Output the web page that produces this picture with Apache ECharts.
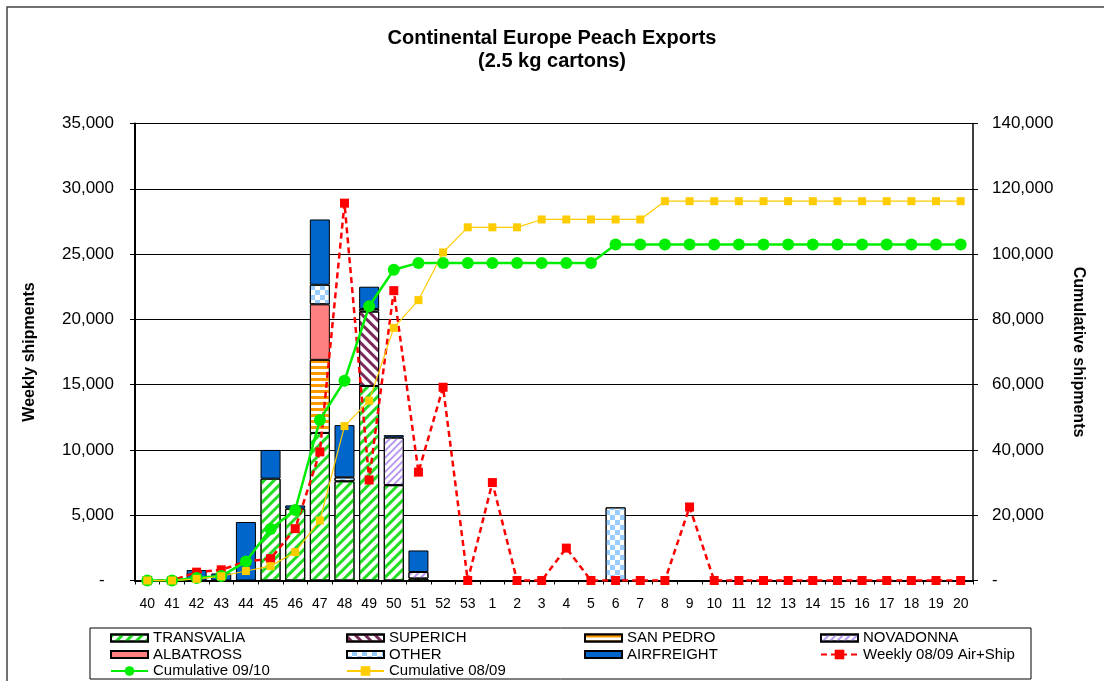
<!DOCTYPE html>
<html>
<head>
<meta charset="utf-8">
<title>Continental Europe Peach Exports</title>
<script src="https://cdn.jsdelivr.net/npm/echarts@6/dist/echarts.min.js"></script>
<style>
  html, body { margin: 0; padding: 0; background: #fff; }
  #chart { width: 1104px; height: 681px; }
</style>
</head>
<body>
<div id="chart"></div>
<script>
// weeks 40..53 then 1..20
const weeks = ['40', '41', '42', '43', '44', '45', '46', '47', '48', '49', '50', '51', '52', '53',
  '1', '2', '3', '4', '5', '6', '7', '8', '9', '10', '11', '12', '13', '14', '15', '16', '17', '18', '19', '20'];

const _ = null;
// weekly shipments per variety (cartons)
const transvalia = [_, _, _, _, _, 7800, 5500, 11300, 7600, 14900, 7300, 150, _, _, _, _, _, _, _, _, _, _, _, _, _, _, _, _, _, _, _, _, _, _];
const superich   = [_, _, _, _, _, _, _, _, _, 5700, _, _, _, _, _, _, _, _, _, _, _, _, _, _, _, _, _, _, _, _, _, _, _, _];
const sanPedro   = [_, _, _, _, _, _, _, 5600, _, _, _, _, _, _, _, _, _, _, _, _, _, _, _, _, _, _, _, _, _, _, _, _, _, _];
const novadonna  = [_, _, _, _, _, _, _, _, _, _, 3650, 500, _, _, _, _, _, _, _, _, _, _, _, _, _, _, _, _, _, _, _, _, _, _];
const albatross  = [_, _, _, _, _, _, _, 4250, _, _, _, _, _, _, _, _, _, _, _, _, _, _, _, _, _, _, _, _, _, _, _, _, _, _];
const other      = [_, _, _, _, _, _, _, 1500, 300, 200, _, _, _, _, _, _, _, _, _, 5600, _, _, _, _, _, _, _, _, _, _, _, _, _, _];
const airfreight = [_, _, 800, 540, 4480, 2200, 250, 5000, 4000, 1700, 180, 1650, _, _, _, _, _, _, _, _, _, _, _, _, _, _, _, _, _, _, _, _, _, _];

// last season weekly (left axis)
const weekly0809 = [0, 0, 640, 820, 1450, 1670, 3970, 9850, 28900, 7700, 22200, 8300, 14800, 0,
  7500, 0, 0, 2480, 0, 0, 0, 0, 5630, 0, 0, 0, 0, 0, 0, 0, 0, 0, 0, 0];

// cumulative (right axis)
const cum0910 = [0, 0, 800, 1350, 5800, 15800, 21600, 49200, 61200, 84000, 95200, 97300, 97300, 97300,
  97300, 97300, 97300, 97300, 97300, 102900, 102900, 102900, 102900, 102900, 102900, 102900, 102900,
  102900, 102900, 102900, 102900, 102900, 102900, 102900];
const cum0809 = [0, 0, 500, 1300, 2900, 4400, 8700, 18400, 47300, 55100, 77400, 85900, 100500, 108200,
  108200, 108200, 110600, 110600, 110600, 110600, 110600, 116200, 116200, 116200, 116200, 116200,
  116200, 116200, 116200, 116200, 116200, 116200, 116200, 116200];

const FONT = 'Liberation Sans, Arial, sans-serif';

const chart = echarts.init(document.getElementById('chart'));

const fmt = (v) => (v === 0 ? '-' : v.toLocaleString('en-US'));

const barSeries = (name, data, color, decal) => {
  const itemStyle = {
    color: color,
    borderColor: '#000',
    borderWidth: 1,
  };
  if (decal) itemStyle.decal = decal;
  return {
    name: name,
    type: 'bar',
    stack: 'weekly',
    data: data,
    barWidth: 20,
    itemStyle: itemStyle,
    emphasis: { disabled: true },
  };
};

// one legend per entry so the 4 x 3 grid lines up like the excel legend
const legendCols = [110, 346, 584, 820];
const legendRows = [638, 654.5, 671];
const mkLegend = (name, col, row, isLine) => ({
  data: [name],
  left: legendCols[col],
  top: legendRows[row] - 8,
  icon: isLine ? undefined : 'rect',
  itemWidth: 37,
  itemHeight: isLine ? 12 : 7,
  padding: 0,
  selectedMode: false,
  textStyle: { fontFamily: FONT, fontSize: 15, color: '#000', lineHeight: 16 },
});

const option = {
  animation: false,
  backgroundColor: '#fff',
  title: {
    text: 'Continental Europe Peach Exports\n(2.5 kg cartons)',
    left: 'center',
    top: 22,
    textStyle: {
      fontFamily: FONT,
      fontSize: 20,
      fontWeight: 'bold',
      color: '#000',
      lineHeight: 23,
    },
  },
  graphic: [
    {
      type: 'rect',
      shape: { x: 7, y: 7, width: 1120, height: 700 },
      style: { fill: null, stroke: '#444', lineWidth: 1.5 },
      silent: true,
    },
    {
      type: 'rect',
      shape: { x: 90, y: 628, width: 941, height: 51 },
      style: { fill: null, stroke: '#000', lineWidth: 1 },
      silent: true,
    },
  ],
  legend: [
    mkLegend('TRANSVALIA', 0, 0),
    mkLegend('ALBATROSS', 0, 1),
    mkLegend('Cumulative 09/10', 0, 2, true),
    mkLegend('SUPERICH', 1, 0),
    mkLegend('OTHER', 1, 1),
    mkLegend('Cumulative 08/09', 1, 2, true),
    mkLegend('SAN PEDRO', 2, 0),
    mkLegend('AIRFREIGHT', 2, 1),
    mkLegend('NOVADONNA', 3, 0),
    mkLegend('Weekly 08/09 Air+Ship', 3, 1, true),
  ],
  grid: {
    left: 135,
    right: 131,
    top: 123.5,
    bottom: 100.5,
  },
  xAxis: {
    type: 'category',
    data: weeks,
    axisLine: { lineStyle: { color: '#000', width: 2 } },
    axisTick: { show: true, length: 4, lineStyle: { color: '#000' } },
    axisLabel: { color: '#000', fontFamily: FONT, fontSize: 14, margin: 17, interval: 0 },
  },
  yAxis: [
    {
      type: 'value',
      min: 0,
      max: 35000,
      interval: 5000,
      name: 'Weekly shipments',
      nameLocation: 'middle',
      nameGap: 97,
      nameRotate: 90,
      nameTextStyle: { fontFamily: FONT, fontSize: 16, fontWeight: 'bold', color: '#000' },
      axisLine: { show: true, lineStyle: { color: '#000', width: 2 } },
      axisTick: { show: true, length: 5, lineStyle: { color: '#000' } },
      axisLabel: {
        color: '#000',
        fontFamily: FONT,
        fontSize: 17,
        margin: 21,
        formatter: (v) => (v === 0 ? '-  ' : fmt(v)),
      },
      splitLine: { show: true, lineStyle: { color: '#000', width: 1 } },
    },
    {
      type: 'value',
      min: 0,
      max: 140000,
      interval: 20000,
      name: 'Cumulative shipments',
      nameLocation: 'middle',
      nameGap: 97,
      nameRotate: -90,
      nameTextStyle: { fontFamily: FONT, fontSize: 16, fontWeight: 'bold', color: '#000' },
      axisLine: { show: true, lineStyle: { color: '#000', width: 1.5 } },
      axisTick: { show: true, length: 5, lineStyle: { color: '#000' } },
      axisLabel: {
        color: '#000',
        fontFamily: FONT,
        fontSize: 17,
        margin: 19,
        formatter: fmt,
      },
      splitLine: { show: false },
    },
  ],
  series: [
    barSeries('TRANSVALIA', transvalia, '#fff', {
      symbol: 'rect', color: '#22dd22', dashArrayX: [1, 0], dashArrayY: [3, 4], rotation: -Math.PI / 4,
    }),
    barSeries('SUPERICH', superich, '#fff', {
      symbol: 'rect', color: '#7a2a5a', dashArrayX: [1, 0], dashArrayY: [3, 4], rotation: Math.PI / 4,
    }),
    barSeries('SAN PEDRO', sanPedro, '#fff', {
      symbol: 'rect', color: '#ff9900', dashArrayX: [1, 0], dashArrayY: [3, 2.5], rotation: 0,
    }),
    barSeries('NOVADONNA', novadonna, '#fff', {
      symbol: 'rect', color: '#b899ee', dashArrayX: [1, 0], dashArrayY: [2, 2.5], rotation: -Math.PI / 4,
    }),
    barSeries('ALBATROSS', albatross, '#ff8080'),
    barSeries('OTHER', other, '#fff', {
      symbol: 'rect', color: '#99ccff', dashArrayX: [[5, 5], [0, 5, 5, 0]], dashArrayY: [5, 0], rotation: 0,
    }),
    barSeries('AIRFREIGHT', airfreight, '#0066cc'),
    {
      name: 'Weekly 08/09 Air+Ship',
      type: 'line',
      yAxisIndex: 0,
      data: weekly0809,
      symbol: 'rect',
      symbolSize: 9,
      itemStyle: { color: '#ff0000' },
      lineStyle: { color: '#ff0000', width: 2.5, type: [6, 4] },
      emphasis: { disabled: true },
    },
    {
      name: 'Cumulative 09/10',
      type: 'line',
      yAxisIndex: 1,
      data: cum0910,
      symbol: 'circle',
      symbolSize: 12,
      itemStyle: { color: '#00ee00' },
      lineStyle: { color: '#00ee00', width: 2.5 },
      emphasis: { disabled: true },
    },
    {
      name: 'Cumulative 08/09',
      type: 'line',
      yAxisIndex: 1,
      data: cum0809,
      symbol: 'rect',
      symbolSize: 8,
      itemStyle: { color: '#ffcc00' },
      lineStyle: { color: '#ffcc00', width: 1.2 },
      emphasis: { disabled: true },
    },
  ],
};

chart.setOption(option);
</script>
</body>
</html>
